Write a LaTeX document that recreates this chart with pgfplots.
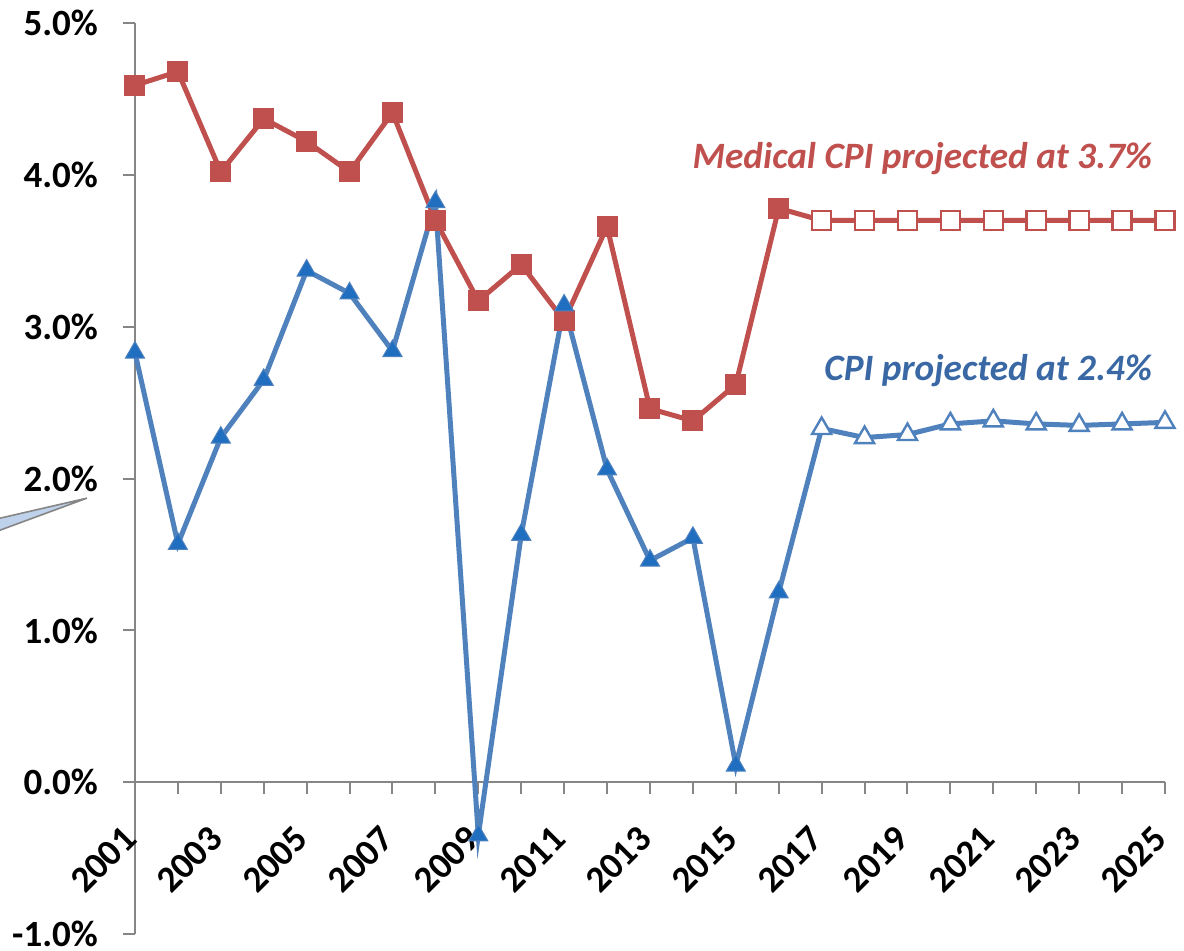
\documentclass[border=0pt]{standalone}
\usepackage{fontspec}
\setmainfont{Carlito}
\usepackage{pgfplots}
\pgfplotsset{compat=1.18}
\definecolor{medred}{RGB}{192,80,77}
\definecolor{cpiblue}{RGB}{79,129,189}
\definecolor{cpimark}{RGB}{31,110,192}
\definecolor{cpitext}{RGB}{58,104,164}
\definecolor{axgray}{RGB}{134,134,134}
\definecolor{callfill}{RGB}{190,210,235}

\pgfplotstableread{
year med
2001 4.59
2002 4.68
2003 4.02
2004 4.37
2005 4.22
2006 4.02
2007 4.41
2008 3.70
2009 3.17
2010 3.41
2011 3.04
2012 3.66
2013 2.46
2014 2.38
2015 2.62
2016 3.78
}\medhist
\pgfplotstableread{
year med
2016 3.78
2017 3.70
2018 3.70
2019 3.70
2020 3.70
2021 3.70
2022 3.70
2023 3.70
2024 3.70
2025 3.70
}\medproj
\pgfplotstableread{
year cpi
2001 2.83
2002 1.57
2003 2.27
2004 2.65
2005 3.37
2006 3.22
2007 2.84
2008 3.82
2009 -0.35
2010 1.63
2011 3.14
2012 2.06
2013 1.46
2014 1.61
2015 0.11
2016 1.25
}\cpihist
\pgfplotstableread{
year cpi
2016 1.25
2017 2.33
2018 2.27
2019 2.29
2020 2.36
2021 2.38
2022 2.36
2023 2.35
2024 2.36
2025 2.37
}\cpiproj

\begin{document}
\begin{tikzpicture}
\begin{axis}[
    scale only axis,
    width=515pt, height=455.5pt,
    xmin=2001, xmax=2025,
    ymin=-1, ymax=5,
    clip=false,
    axis y line=left,
    axis x line=middle,
    hide obscured x ticks=false,
    axis line style={-, axgray, line width=1pt},
    tick style={axgray, line width=1pt},
    tick align=outside,
    major tick length=6pt,
    minor tick length=6pt,
    xtick={2001,2003,...,2025},
    minor xtick={2002,2004,...,2024},
    ytick={-1,0,...,5},
    /pgf/number format/assume math mode=true,
    xticklabel style={yshift=-17pt, rotate=45, anchor=east,
        font=\bfseries\fontsize{18.5}{21}\selectfont,
        /pgf/number format/1000 sep={}},
    yticklabel style={xshift=-9pt, font=\bfseries\fontsize{18.5}{20}\selectfont},
    yticklabel={\pgfmathprintnumber[fixed,fixed zerofill,precision=1]{\tick}\%},
]
% frame of the picture, matched to the reference
\coordinate (bl) at (axis cs:1997.855,-1.107);
\coordinate (tr) at (axis cs:2025.443,5.152);

% callout fragment at left edge
\draw[axgray, fill=callfill, line width=0.8pt]
    (axis cs:1997.855,1.739) -- (axis cs:1999.88,1.871) -- (axis cs:1997.855,1.660);

% Medical CPI
\addplot[medred, line width=2.5pt, mark=square*, mark size=4.8pt,
    mark indices={2,...,10},
    mark options={fill=white, draw=medred, line width=1.2pt}] table[x=year,y=med] {\medproj};
\addplot[medred, line width=2.5pt, mark=square*, mark size=5pt,
    mark options={fill=medred, draw=medred, line width=0.5pt}] table[x=year,y=med] {\medhist};

% CPI
\addplot[cpiblue, line width=2.5pt, mark=triangle*, mark size=5.5pt,
    mark indices={2,...,10},
    mark options={fill=white, draw=cpiblue, line width=1.2pt}] table[x=year,y=cpi] {\cpiproj};
\addplot[cpiblue, line width=2.5pt, mark=triangle*, mark size=5.5pt,
    mark options={fill=cpimark, draw=cpiblue, line width=0.5pt}] table[x=year,y=cpi] {\cpihist};

\node[anchor=east, text=medred, font=\bfseries\itshape\fontsize{18.6}{22}\selectfont]
    at (axis cs:2024.86,4.11) {Medical CPI projected at 3.7\%};
\node[anchor=east, text=cpitext, font=\bfseries\itshape\fontsize{18.6}{22}\selectfont]
    at (axis cs:2024.86,2.71) {CPI projected at 2.4\%};
\end{axis}
\pgfresetboundingbox
\useasboundingbox (bl) rectangle (tr);
\end{tikzpicture}
\end{document}
